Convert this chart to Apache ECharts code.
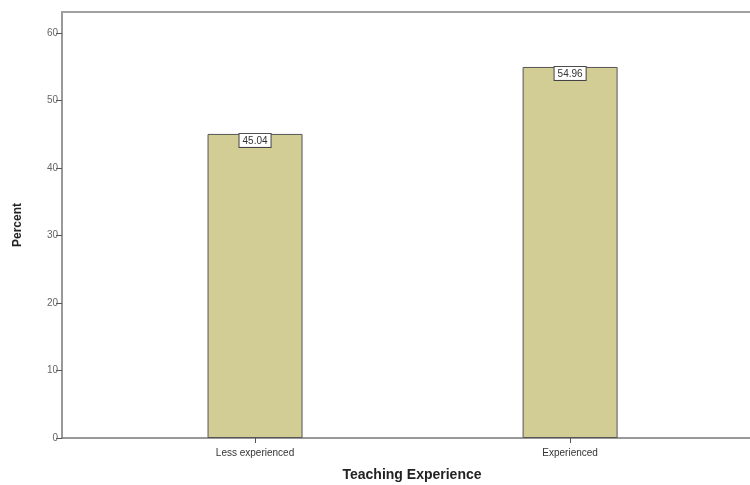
<!DOCTYPE html>
<html>
<head>
<meta charset="utf-8">
<script src="https://cdn.jsdelivr.net/npm/echarts@6/dist/echarts.min.js"></script>
<style>html,body{margin:0;padding:0;background:#fff;overflow:hidden}#c{width:750px;height:485px}</style>
</head>
<body>
<div id="c"></div>
<script>
const categories = ['Less experienced', 'Experienced'];
const percentValues = [45.04, 54.96];
const yTicks = [0, 10, 20, 30, 40, 50, 60];

const chart = echarts.init(document.getElementById('c'), null, {renderer: 'canvas'});
const barData = percentValues.map((v, i) => [i, v]);
const X_MIN = -0.6127, X_MAX = 1.571;
chart.setOption({
  animation: false,
  grid: {left: 62, right: 0, top: 12, bottom: 47, containLabel: false, outerBoundsMode: 'none'},
  xAxis: [{
    type: 'value',
    min: X_MIN,
    max: X_MAX,
    position: 'bottom',
    name: 'Teaching Experience',
    nameLocation: 'middle',
    nameGap: 30,
    nameTextStyle: {fontFamily: 'Liberation Sans', fontWeight: 'bold', fontSize: 14, color: '#222', padding: [0, 0, 0, 12]},
    splitLine: {show: false},
    axisLine: {show: true, onZero: false, lineStyle: {color: '#777', width: 1.5}},
    axisTick: {show: true, length: 5, customValues: [0, 1], lineStyle: {color: '#555'}},
    axisLabel: {customValues: [0, 1], margin: 10, fontFamily: 'Liberation Sans', fontSize: 10, color: '#333',
      formatter: v => categories[Math.round(v)] || ''}
  }, {
    type: 'value',
    min: X_MIN,
    max: X_MAX,
    position: 'top',
    splitLine: {show: false},
    axisLine: {show: true, onZero: false, lineStyle: {color: '#a0a0a0', width: 2}},
    axisTick: {show: false},
    axisLabel: {show: false}
  }],
  yAxis: {
    type: 'value',
    min: 0,
    max: 63.1,
    interval: 10,
    name: 'Percent',
    nameLocation: 'middle',
    nameGap: 38,
    nameTextStyle: {fontFamily: 'Liberation Sans', fontWeight: 'bold', fontSize: 12, color: '#222'},
    splitLine: {show: false},
    axisLine: {show: true, onZero: false, lineStyle: {color: '#999', width: 2}},
    axisTick: {show: true, length: 6, customValues: yTicks, lineStyle: {color: '#555'}},
    axisLabel: {margin: 4, customValues: yTicks, fontFamily: 'Liberation Sans', fontSize: 10, color: '#666'}
  },
  series: [{
    type: 'bar',
    xAxisIndex: 0,
    data: barData,
    barWidth: 95,
    itemStyle: {color: '#d2cd95', borderColor: '#555', borderWidth: 1},
    label: {
      show: true,
      position: 'insideTop',
      distance: 0,
      formatter: p => p.value[1].toFixed(2),
      fontFamily: 'Liberation Sans',
      fontSize: 10,
      color: '#333',
      backgroundColor: '#fff',
      borderColor: '#444',
      borderWidth: 1,
      padding: [2, 3, 1, 3]
    }
  }]
});
</script>
</body>
</html>
